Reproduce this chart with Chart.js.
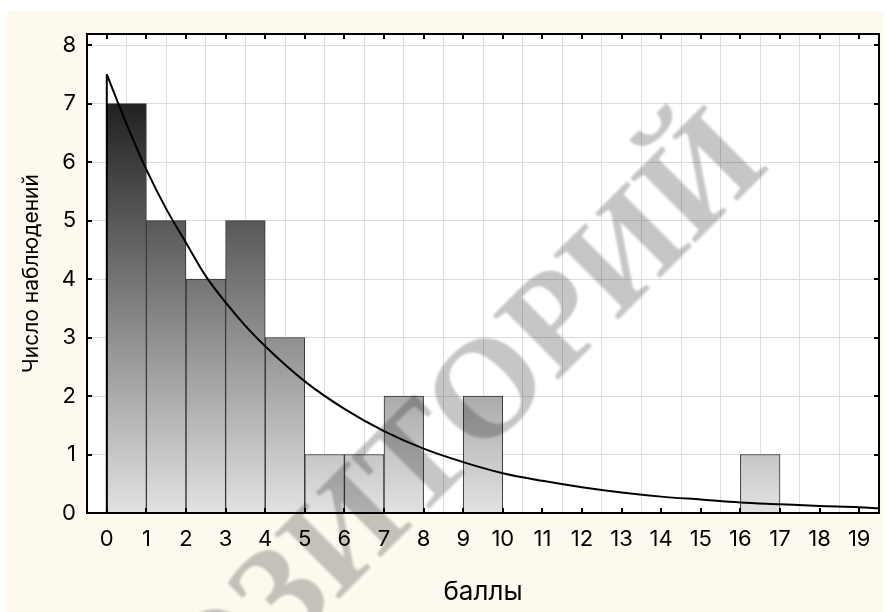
<!DOCTYPE html>
<html>
<head>
<meta charset="utf-8">
<script src="https://cdn.jsdelivr.net/npm/chart.js@4.4.1/dist/chart.umd.min.js"></script>
<style>
  html, body { margin: 0; padding: 0; background: #ffffff; }
  #wrap { width: 887px; height: 612px; }
</style>
</head>
<body>
<div id="wrap"><canvas id="hist" width="887" height="612"></canvas></div>
<script>
// Histogram of scores: bin left edges and observation counts
const binLeft = [0, 1, 2, 3, 4, 5, 6, 7, 8, 9, 10, 11, 12, 13, 14, 15, 16, 17, 18];
const counts  = [7, 5, 4, 5, 3, 1, 1, 2, 0, 2, 0, 0, 0, 0, 0, 0, 1, 0, 0];

// Fitted exponential density curve (expected counts)
const fitX = [0, 0.5, 1, 1.5, 2, 2.5, 3, 3.5, 4, 5, 6, 7, 8, 9, 10, 11, 12, 13, 14, 15, 16, 17, 18, 19, 19.5];
const fitY = [7.5, 6.65, 5.87, 5.2, 4.62, 4.05, 3.6, 3.2, 2.85, 2.25, 1.78, 1.4, 1.1, 0.87, 0.68, 0.55, 0.44, 0.35, 0.28, 0.23, 0.18, 0.15, 0.12, 0.1, 0.08];

// Axis tick labels
const xTicks = [0, 1, 2, 3, 4, 5, 6, 7, 8, 9, 10, 11, 12, 13, 14, 15, 16, 17, 18, 19];
const yTicks = [0, 1, 2, 3, 4, 5, 6, 7, 8];

const X_TITLE = 'баллы';
const Y_TITLE = 'Число наблюдений';
const WATERMARK = 'РЕПОЗИТОРИЙ';

const FONT = 'Inter, "Liberation Sans", Arial, sans-serif';

let barGradient = null;
let gradKey = '';
function barFill(c) {
  const chart = c.chart;
  const a = chart.chartArea;
  if (!a) return '#888888';
  const key = a.top + ':' + a.bottom;
  if (!barGradient || gradKey !== key) {
    const g = chart.ctx.createLinearGradient(0, a.bottom, 0, a.top);
    g.addColorStop(0, '#e2e2e2');
    g.addColorStop(1, '#000000');
    barGradient = g;
    gradKey = key;
  }
  return barGradient;
}

const framePlugin = {
  id: 'frame',
  beforeDraw(chart) {
    const ctx = chart.ctx;
    const a = chart.chartArea;
    ctx.save();
    ctx.fillStyle = '#ffffff';
    ctx.fillRect(0, 0, chart.width, chart.height);
    ctx.fillStyle = '#fdf9ee';
    ctx.fillRect(7, 11, 876, chart.height - 11);
    ctx.fillStyle = '#ffffff';
    ctx.fillRect(a.left, a.top, a.right - a.left, a.bottom - a.top);
    ctx.restore();
  },
  afterDraw(chart) {
    const ctx = chart.ctx;
    const a = chart.chartArea;
    const xs = chart.scales.x, ys = chart.scales.y;
    ctx.save();
    // inward tick marks on all four sides
    ctx.strokeStyle = '#000000';
    ctx.lineWidth = 2;
    ctx.beginPath();
    xs.ticks.forEach(t => {
      const px = Math.round(xs.getPixelForValue(t.value));
      ctx.moveTo(px, a.bottom); ctx.lineTo(px, a.bottom - 5);
      ctx.moveTo(px, a.top); ctx.lineTo(px, a.top + 5);
    });
    ys.ticks.forEach(t => {
      const py = Math.round(ys.getPixelForValue(t.value));
      ctx.moveTo(a.left, py); ctx.lineTo(a.left + 5, py);
      ctx.moveTo(a.right, py); ctx.lineTo(a.right - 5, py);
    });
    ctx.stroke();
    // plot frame
    ctx.lineWidth = 2;
    ctx.strokeRect(a.left, a.top, a.right - a.left, a.bottom - a.top);
    ctx.restore();

    // diagonal watermark
    ctx.save();
    ctx.globalCompositeOperation = 'multiply';
    ctx.filter = 'blur(1px)';
    ctx.translate(362, 525);
    ctx.rotate(-45 * Math.PI / 180);
    ctx.font = 'bold 140px "Liberation Serif", "Times New Roman", serif';
    ctx.fillStyle = '#c6c6c6';
    ctx.textAlign = 'center';
    ctx.textBaseline = 'middle';
    ctx.fillText(WATERMARK, 0, 0);
    ctx.restore();
  }
};

const gridStyle = { color: '#dcdcdc', lineWidth: 1, drawTicks: false };

new Chart(document.getElementById('hist'), {
  type: 'bar',
  data: {
    datasets: [
      {
        type: 'line',
        data: [{ x: fitX[0], y: 0 }, { x: fitX[0], y: fitY[0] }],
        borderColor: '#000000',
        borderWidth: 2,
        pointRadius: 0,
        fill: false,
        order: 0
      },
      {
        type: 'line',
        data: fitX.map((x, i) => ({ x: x, y: fitY[i] })),
        borderColor: '#000000',
        borderWidth: 2,
        pointRadius: 0,
        fill: false,
        cubicInterpolationMode: 'monotone',
        order: 0
      },
      {
        type: 'bar',
        data: binLeft.map((b, i) => ({ x: b + 0.5, y: counts[i] })),
        backgroundColor: barFill,
        borderColor: '#2e2e2e',
        borderWidth: c => (c.raw && c.raw.y ? 1 : 0),
        borderSkipped: 'bottom',
        barPercentage: 1,
        categoryPercentage: 1,
        grouped: false,
        order: 1
      }
    ]
  },
  options: {
    responsive: false,
    animation: false,
    devicePixelRatio: 1,
    layout: { padding: { left: 0, top: 34, right: 8, bottom: 0 } },
    plugins: { legend: { display: false }, tooltip: { enabled: false } },
    scales: {
      x: {
        type: 'linear',
        min: -0.5,
        max: 19.5,
        offset: false,
        afterBuildTicks: s => { s.ticks = xTicks.map(v => ({ value: v })); },
        afterFit: s => { s.height = 99; },
        grid: gridStyle,
        border: { display: false },
        ticks: {
          color: '#000000',
          font: { family: FONT, size: 22 },
          padding: 13,
          maxRotation: 0,
          autoSkip: false
        },
        title: {
          display: true,
          text: X_TITLE,
          color: '#000000',
          font: { family: FONT, size: 26 },
          padding: { top: 0, bottom: 4 }
        }
      },
      y: {
        type: 'linear',
        min: 0,
        max: 8.19,
        afterBuildTicks: s => { s.ticks = yTicks.map(v => ({ value: v })); },
        afterFit: s => { s.width = 87; },
        grid: gridStyle,
        border: { display: false },
        ticks: {
          color: '#000000',
          font: { family: FONT, size: 22 },
          padding: 11
        },
        title: {
          display: true,
          text: Y_TITLE,
          color: '#000000',
          font: { family: FONT, size: 21 },
          padding: { top: 19, bottom: 0 }
        }
      }
    }
  },
  plugins: [framePlugin]
});
</script>
</body>
</html>
